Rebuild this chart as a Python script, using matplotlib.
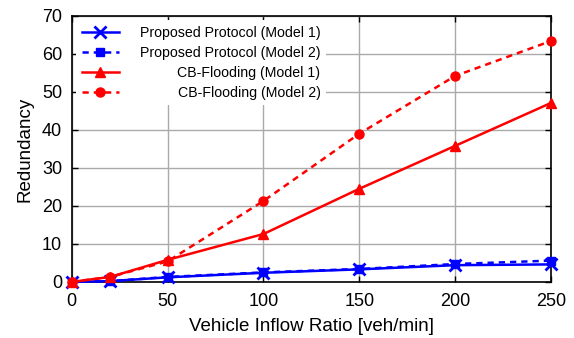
import matplotlib
matplotlib.use("Agg")
import matplotlib.pyplot as plt

plt.rcParams.update({
    "font.family": ["Liberation Sans", "DejaVu Sans"],
    "xtick.direction": "in",
    "ytick.direction": "in",
    "xtick.top": True,
    "ytick.right": True,
})

# data
inflow = [0, 20, 50, 100, 150, 200, 250]
proposed_m1 = [0.0, 0.2, 1.2, 2.4, 3.3, 4.4, 4.6]
proposed_m2 = [0.0, 0.2, 1.3, 2.5, 3.4, 4.7, 5.6]
cbf_m1 = [0.0, 1.3, 5.8, 12.6, 24.5, 35.8, 47.1]
cbf_m2 = [0.0, 1.3, 5.4, 21.3, 39.0, 54.2, 63.4]
labels = ["Proposed Protocol (Model 1)", "Proposed Protocol (Model 2)",
          "CB-Flooding (Model 1)", "CB-Flooding (Model 2)"]

fig = plt.figure(figsize=(5.74, 3.38), dpi=100)
ax = fig.add_axes([0.125, 0.166, 0.835, 0.787])

common = dict(lw=1.8, clip_on=False, zorder=3)
ax.plot(inflow, proposed_m1, color="blue", marker="x", ms=8, mew=2, label=labels[0], **common)
ax.plot(inflow, proposed_m2, color="blue", ls=(0, (2.5, 2)), marker="s", ms=6, label=labels[1], **common)
ax.plot(inflow, cbf_m1, color="red", marker="^", ms=7.5, label=labels[2], **common)
ax.plot(inflow, cbf_m2, color="red", ls=(0, (2.5, 2)), marker="o", ms=6.5, label=labels[3], **common)

ax.set_xlim(0, 250)
ax.set_ylim(0, 70)
ax.set_xticks([0, 50, 100, 150, 200, 250])
ax.set_yticks(range(0, 71, 10))
ax.tick_params(labelsize=13, length=4, width=1)
ax.tick_params(axis="x", pad=8)
ax.tick_params(axis="y", pad=7)
ax.grid(True, color="#AAAAAA", lw=1)
for s in ax.spines.values():
    s.set_linewidth(1.2)
ax.set_xlabel("Vehicle Inflow Ratio [veh/min]", fontsize=13.5, labelpad=6)
ax.set_ylabel("Redundancy", fontsize=13.5, labelpad=6)

leg = ax.legend(loc="upper left", bbox_to_anchor=(0.0, 1.0), fontsize=10.2,
                frameon=True, edgecolor="none", facecolor="white", framealpha=1,
                fancybox=False, handlelength=2.6, handletextpad=1.5,
                labelspacing=0.42, borderaxespad=0.3)
leg.set_zorder(5)
fig.canvas.draw()
renderer = fig.canvas.get_renderer()
texts = leg.get_texts()
widths = [t.get_window_extent(renderer).width for t in texts]
for t, w in zip(texts, widths):
    t.set_position((max(widths) - w, 0))

fig.savefig("out.png", dpi=100)
